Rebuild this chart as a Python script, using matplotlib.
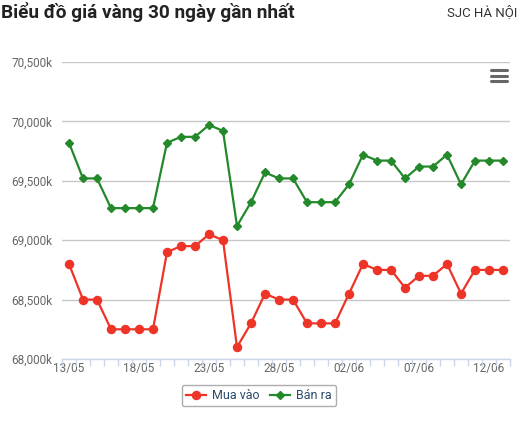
import matplotlib.pyplot as plt
from matplotlib.lines import Line2D
from matplotlib.ticker import FuncFormatter

dates = ["13/05", "14/05", "15/05", "16/05", "17/05", "18/05", "19/05", "20/05",
         "21/05", "22/05", "23/05", "24/05", "25/05", "26/05", "27/05", "28/05",
         "29/05", "30/05", "31/05", "01/06", "02/06", "03/06", "04/06", "05/06",
         "06/06", "07/06", "08/06", "09/06", "10/06", "11/06", "12/06", "13/06"]

mua_vao = [68800, 68500, 68500, 68250, 68250, 68250, 68250, 68900,
           68950, 68950, 69050, 69000, 68100, 68300, 68550, 68500,
           68500, 68300, 68300, 68300, 68550, 68800, 68750, 68750,
           68600, 68700, 68700, 68800, 68550, 68750, 68750, 68750]

ban_ra = [69820, 69520, 69520, 69270, 69270, 69270, 69270, 69820,
          69870, 69870, 69970, 69920, 69120, 69320, 69570, 69520,
          69520, 69320, 69320, 69320, 69470, 69720, 69670, 69670,
          69520, 69620, 69620, 69720, 69470, 69670, 69670, 69670]

y_ticks = [68000, 68500, 69000, 69500, 70000, 70500]

RED = "#ee3427"
GREEN = "#23892a"


def main():
    plt.rcParams["font.family"] = ["Roboto", "DejaVu Sans"]
    fig = plt.figure(figsize=(5.2, 4.23), dpi=100)
    ax = fig.add_axes([62 / 520, 64 / 423, 448 / 520, 297 / 423])

    x = list(range(len(dates)))
    ax.plot(x, mua_vao, color=RED, lw=1.6, marker="o", ms=5.8, label="Mua vào", zorder=3)
    ax.plot(x, ban_ra, color=GREEN, lw=1.6, marker="D", ms=4.0, label="Bán ra", zorder=3)

    ax.set_xlim(-0.5, len(dates) - 0.5)
    ax.set_ylim(68000, 70500)
    ax.set_yticks(y_ticks)
    ax.yaxis.set_major_formatter(FuncFormatter(lambda v, p: f"{int(v):,}k"))
    ax.grid(axis="y", color="#c8c8c8", lw=1)
    ax.set_axisbelow(True)

    ax.set_xticks(x[::5])
    ax.set_xticklabels(dates[::5])
    ax.set_xticks([i - 0.5 for i in range(len(dates) + 1)], minor=True)

    for s in ["top", "right", "left"]:
        ax.spines[s].set_visible(False)
    ax.spines["bottom"].set_color("#ccd6eb")
    ax.spines["bottom"].set_linewidth(1)

    ax.tick_params(axis="y", length=0, pad=7, labelsize=8.5, labelcolor="#666666")
    ax.tick_params(axis="x", which="major", length=0, pad=2, labelsize=8.5, labelcolor="#666666")
    ax.tick_params(axis="x", which="minor", length=5, color="#ccd6eb", width=1)

    fig.text(1 / 520, 1 - 12 / 423, "Biểu đồ giá vàng 30 ngày gần nhất", fontsize=13.7,
             fontweight="bold", color="#222222", va="center", ha="left")
    fig.text(517 / 520, 1 - 12 / 423, "SJC HÀ NỘI", fontsize=9.5, color="#333333",
             va="center", ha="right")

    # menu icon
    for yy in [69.7, 76, 81.3]:
        fig.add_artist(Line2D([491 / 520, 507 / 520], [1 - yy / 423, 1 - yy / 423],
                              color="#666666", lw=2.2, solid_capstyle="round"))

    leg = fig.legend(loc="center", bbox_to_anchor=(259 / 520, 1 - 395.5 / 423), ncol=2,
                     frameon=True, fancybox=True, edgecolor="#999999", fontsize=9,
                     handlelength=1.6, columnspacing=0.8, handletextpad=0.5,
                     borderpad=0.35, labelcolor="#2c4a6b")
    leg.get_frame().set_linewidth(1)

    fig.savefig("out.png", dpi=100)
    plt.close(fig)


if __name__ == "__main__":
    main()
